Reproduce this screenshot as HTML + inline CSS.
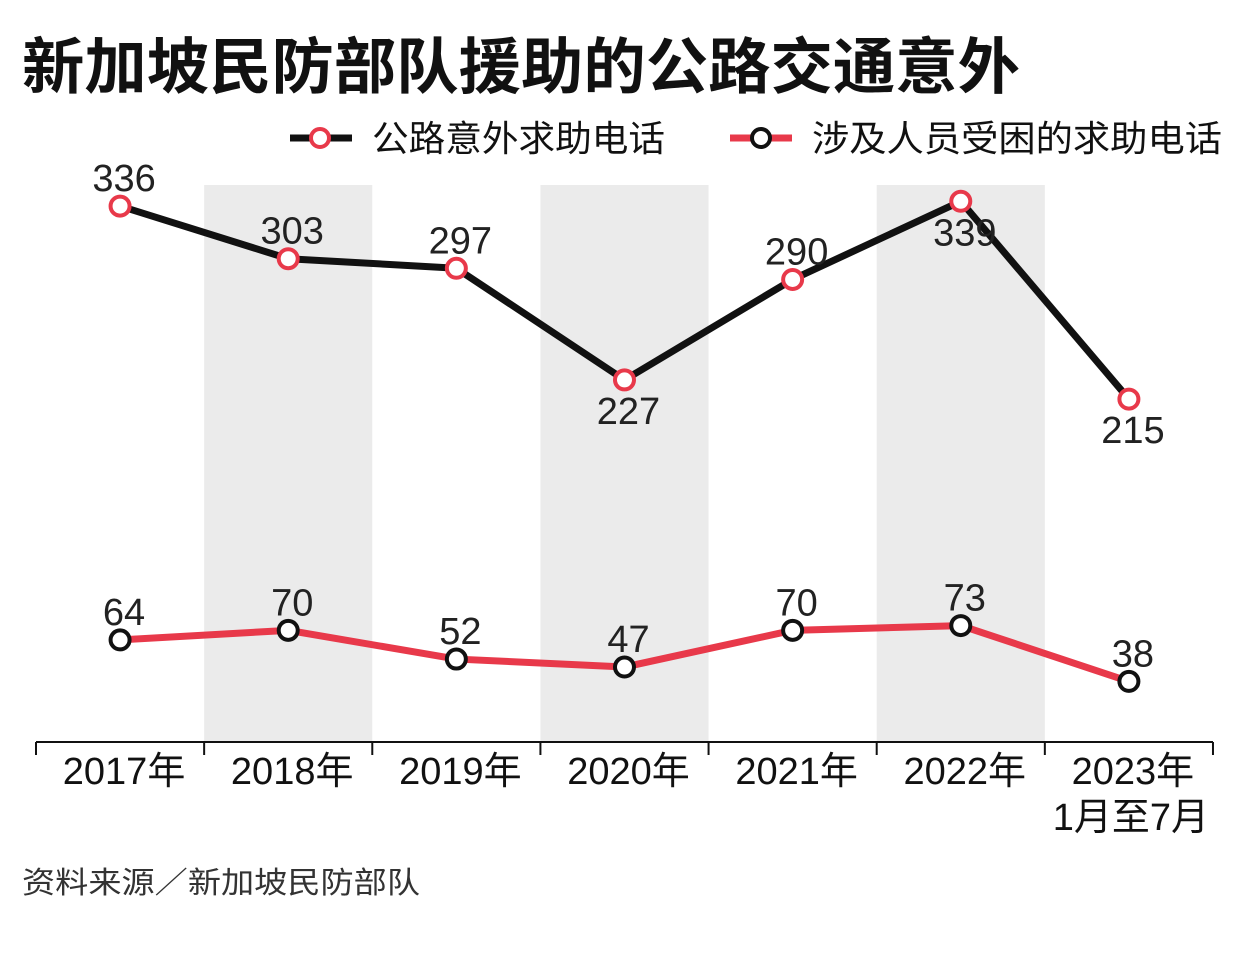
<!DOCTYPE html>
<html><head><meta charset="utf-8"><style>
body{margin:0;background:#fff;width:1251px;height:950px;overflow:hidden;font-family:"Liberation Sans","Noto Sans CJK SC",sans-serif}
</style></head><body>
<svg id="chart" width="1251" height="950" xmlns="http://www.w3.org/2000/svg" font-family="Liberation Sans, Noto Sans CJK SC, sans-serif">
<text x="22" y="88" font-size="61" font-weight="bold" fill="#111" textLength="998" lengthAdjust="spacingAndGlyphs">新加坡民防部队援助的公路交通意外</text>
<g>
<g>
<line x1="290" y1="138" x2="352" y2="138" stroke="#111" stroke-width="7"/>
<circle cx="320" cy="138" r="9" fill="#fff" stroke="#e8394a" stroke-width="4"/>
<text x="372" y="151" font-size="36" fill="#111" textLength="293" lengthAdjust="spacingAndGlyphs">公路意外求助电话</text></g>
<g>
<line x1="730" y1="138" x2="792" y2="138" stroke="#e8394a" stroke-width="7"/>
<circle cx="761" cy="138" r="9" fill="#fff" stroke="#111" stroke-width="4"/>
<text x="812" y="151" font-size="36" fill="#111" textLength="410" lengthAdjust="spacingAndGlyphs">涉及人员受困的求助电话</text></g>
</g>
<g id="bands"></g><g id="axis"></g><g id="series"></g>
<text x="22" y="893" font-size="30" fill="#333" textLength="398" lengthAdjust="spacingAndGlyphs">资料来源／新加坡民防部队</text>
</svg>
<script>
const categories=["2017年","2018年","2019年","2020年","2021年","2022年","2023年"];
const roadCalls=[336,303,297,227,290,339,215];
const trappedCalls=[64,70,52,47,70,73,38];
const roadLabelBelow=[false,false,false,true,false,true,true];
const NS="http://www.w3.org/2000/svg";
const x0=36,bw=168.14,base=742,k=1.595;
const xs=i=>x0+bw*(i+0.5), ys=v=>base-v*k;
function mk(t,a,p){const e=document.createElementNS(NS,t);for(const q in a)e.setAttribute(q,a[q]);p.appendChild(e);return e;}
const bands=document.getElementById('bands'),axis=document.getElementById('axis'),series=document.getElementById('series');
categories.forEach((c,i)=>{
 if(i%2===1){const r=mk('rect',{x:x0+bw*i,y:185,width:bw,height:base-185,fill:'#ebebeb'},bands);
 
 }
 const t=mk('text',{x:xs(i)+4,y:784,'font-size':38,'text-anchor':'middle',fill:'#111'},axis);t.textContent=c;
 
 
});
const t2=mk('text',{x:xs(6)+2,y:830,'font-size':38,'text-anchor':'middle',fill:'#111'},axis);t2.textContent="1月至7月";


const al=mk('line',{x1:x0,y1:base,x2:x0+bw*7,y2:base,stroke:'#111','stroke-width':2},axis);


for(let i=0;i<=7;i++){const tk=mk('line',{x1:x0+bw*i,y1:base,x2:x0+bw*i,y2:755,stroke:'#111','stroke-width':2},axis);
 
 }
function draw(vals,lineC,markC,name,below){
 const p=mk('polyline',{points:vals.map((v,i)=>xs(i)+','+ys(v)).join(' '),fill:'none',stroke:lineC,'stroke-width':7,'stroke-linejoin':'round'},series);
 
 
 vals.forEach((v,i)=>{
  const c=mk('circle',{cx:xs(i),cy:ys(v),r:9.5,fill:'#fff',stroke:markC,'stroke-width':4},series);
  
  
  const b=below&&below[i];
  const t=mk('text',{x:xs(i)+4,y:b?ys(v)+44:ys(v)-15,'font-size':38,'text-anchor':'middle',fill:'#222'},series);t.textContent=v;
  
  
 });
}
draw(roadCalls,'#111','#e8394a','road-calls',roadLabelBelow);
draw(trappedCalls,'#e8394a','#111','trapped-calls',null);
</script>
</body></html>
